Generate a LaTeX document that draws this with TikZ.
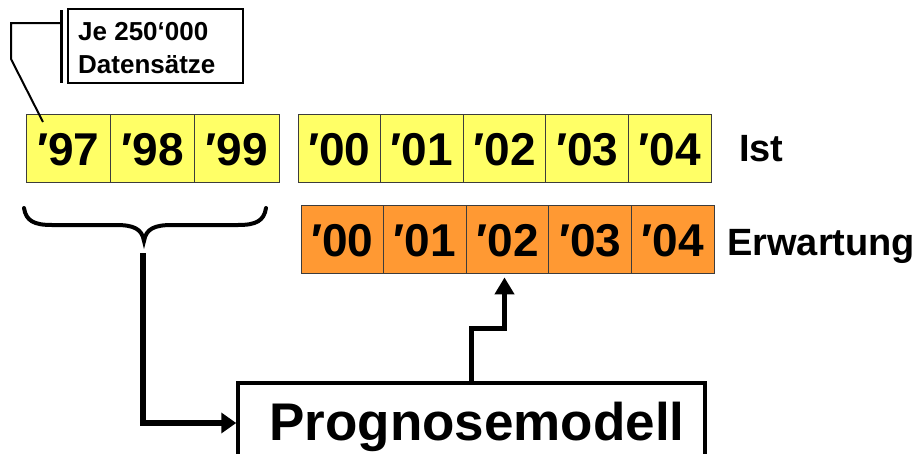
\documentclass[tikz,border=0pt]{standalone}
\usepackage{fontspec}
\setmainfont{Liberation Sans}
\usetikzlibrary{arrows.meta}
\definecolor{yel}{RGB}{255,255,102}
\definecolor{org}{RGB}{255,153,51}
\definecolor{cellline}{RGB}{60,60,60}
\begin{document}
\begin{tikzpicture}[x=1pt,y=-1pt,
  cell/.style={draw=cellline, line width=0.8pt, minimum height=68pt, inner sep=0pt,
    text height=34pt, text depth=0pt, font=\fontsize{46}{50}\selectfont\bfseries},
  yearcell/.style={cell, fill=yel},
  expcell/.style={cell, fill=org},
  rowlabel/.style={anchor=base west, inner sep=0pt, font=\fontsize{38}{44}\selectfont\bfseries},
  calltext/.style={anchor=base west, inner sep=0pt, font=\fontsize{26}{30}\selectfont\bfseries},
  flow/.style={line join=miter, draw=black},
]
\useasboundingbox (0,0) rectangle (914,453);

% top-left year cells
\foreach \t [count=\i] in {97,98,99}
  \node[yearcell, minimum width=84.3pt] (a\t) at ({26+84.33*(\i-0.5)},148) {′\t};
% actual values
\foreach \t [count=\i] in {00,01,02,03,04}
  \node[yearcell, minimum width=82.6pt] (i\t) at ({298+82.6*(\i-0.5)},148) {′\t};
% expected values
\foreach \t [count=\i] in {00,01,02,03,04}
  \node[expcell, minimum width=82.6pt] (e\t) at ({301+82.6*(\i-0.5)},239) {′\t};

\node[rowlabel] (ist) at (739,161) {Ist};
\node[rowlabel] (erw) at (727,255) {Erwartung};

% callout
\node[draw, line width=1.5pt, minimum width=175pt, minimum height=74pt, inner sep=0pt] (cb) at (155.5,46) {};
\node[calltext] (cbt1) at (78,40) {Je 250‘000};
\node[calltext] (cbt2) at (78,73) {Datensätze};
\coordinate (bartop) at (61,10);
\coordinate (barbot) at (61,83);
\draw[line width=3pt] (bartop) -- (barbot);
\coordinate (leadstart) at (61,23);
\coordinate (leadc1) at (11,23);
\coordinate (leadc2) at (11,59);
\coordinate (leadend) at (43,122);
\draw[line width=2pt, line join=miter] (leadstart) -- (leadc1) -- (leadc2) -- (leadend);

% brace
\coordinate (brtip) at (144,241);
\draw[line width=4pt, line cap=round]
  (24,208) .. controls (26,221) and (34,225) .. (52,225) -- (116,225)
  .. controls (134,225) and (142,229) .. (brtip)
  .. controls (146,229) and (154,225) .. (172,225) -- (238,225)
  .. controls (256,225) and (264,221) .. (266,208);

% model box (cut at the bottom edge)
\begin{scope}
  \clip (0,0) rectangle (914,453);
  \node[draw, line width=3.5pt, minimum width=467pt, minimum height=87pt, inner sep=0pt] (pm) at (471.5,426.5) {};
\end{scope}
\node[anchor=base, inner sep=0pt, font=\fontsize{53}{60}\selectfont\bfseries] (pmt) at (477,440) {Prognosemodell};

% arrows
\coordinate (a1s) at (143,253);
\draw[flow, line width=6pt, -{Triangle[length=15pt,width=20pt]}]
  (a1s) |- ([yshift=3.5pt]pm.west);
\draw[flow, line width=5pt, -{Triangle[length=17pt,width=19pt]}]
  (pm.north) -- ++(0,-53) -| ([yshift=-4pt,xshift=-3pt]e02.south);
\end{tikzpicture}
\end{document}
